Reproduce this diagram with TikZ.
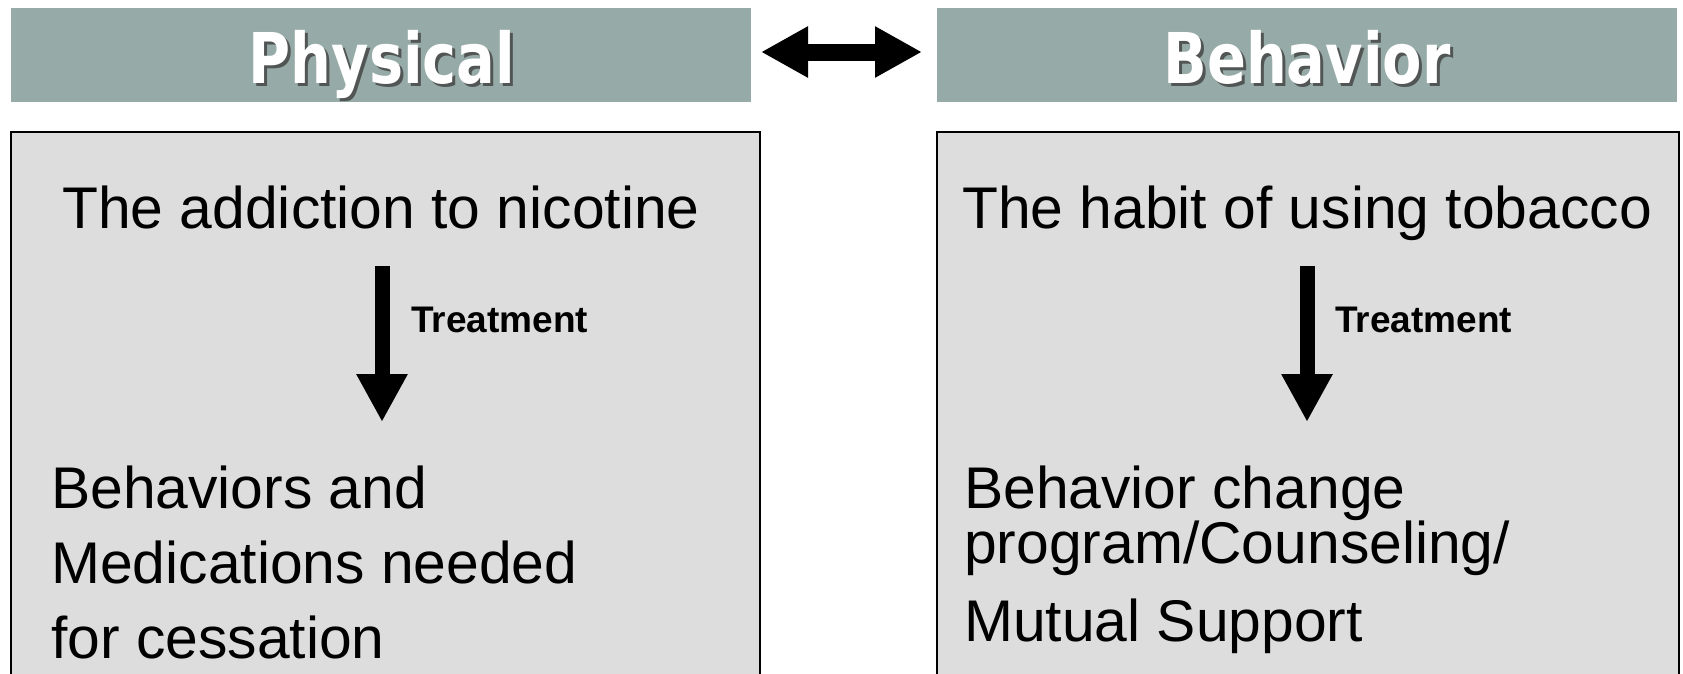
\documentclass[tikz,border=0pt]{standalone}
\usepackage{fontspec}
\setmainfont{Liberation Sans}
\newfontfamily\headfont[FakeStretch=0.82]{DejaVu Sans Bold}
\usetikzlibrary{arrows.meta}
\definecolor{headfill}{RGB}{150,170,167}
\definecolor{boxfill}{RGB}{221,221,221}
\tikzset{
  headbox/.style={fill=headfill, draw=none, minimum width=740pt, minimum height=94pt, inner sep=0pt, anchor=north west},
  bodybox/.style={fill=boxfill, draw=black, line width=2pt},
  headtxt/.style={font=\headfont\fontsize{70}{80}\selectfont, inner sep=0pt, anchor=base},
  bodytxt/.style={font=\fontsize{58.8}{66}\selectfont, inner sep=0pt},
  treat/.style={font=\bfseries\fontsize{37}{42}\selectfont, inner sep=0pt, anchor=base west},
  bigdown/.style={line width=15pt, -{Triangle[width=48pt,length=48pt]}},
  bigboth/.style={line width=17pt, {Triangle[width=48pt,length=47pt]}-{Triangle[width=48pt,length=47pt]}},
}
\begin{document}
\begin{tikzpicture}[x=1pt,y=-1pt]
\clip (0,0) rectangle (1683,673);
\fill[white] (0,0) rectangle (1683,673);
% headers
\node[headbox] (hl) at (11,8) {};
\node[headbox] (hr) at (937,8) {};
\node[headtxt, text=black!75, opacity=0.8] at (385,86) {Physical};
\node[headtxt, text=white] (tl) at (382,83) {Physical};
\node[headtxt, text=black!75, opacity=0.8] at (1310,86) {Behavior};
\node[headtxt, text=white] (tr) at (1307,83) {Behavior};
\coordinate (dl) at (761,52);
\coordinate (dr) at (922,52);
\draw[bigboth] (dl) -- (dr);
% boxes
\draw[bodybox] (11,132) rectangle (760,690);
\draw[bodybox] (937,132) rectangle (1679,690);
% left content
\node[bodytxt, anchor=base] (l1) at (381,228) {The addiction to nicotine};
\coordinate (la) at (382,266);
\coordinate (lb) at (382,422);
\draw[bigdown] (la) -- (lb);
\node[treat] (lt) at (411,332) {Treatment};
\node[bodytxt, anchor=base west] (l2) at (51,508) {Behaviors and};
\node[bodytxt, anchor=base west] (l3) at (51,583) {Medications needed};
\node[bodytxt, anchor=base west] (l4) at (51,658) {for cessation};
% right content
\node[bodytxt, anchor=base] (r1) at (1307,228) {The habit of using tobacco};
\coordinate (ra) at (1307,266);
\coordinate (rb) at (1307,422);
\draw[bigdown] (ra) -- (rb);
\node[treat] (rt) at (1335,332) {Treatment};
\node[bodytxt, anchor=base west] (r2) at (964,508) {Behavior change};
\node[bodytxt, anchor=base west] (r3) at (964,563) {program/Counseling/};
\node[bodytxt, anchor=base west] (r4) at (964,641) {Mutual Support};
\end{tikzpicture}
\end{document}
